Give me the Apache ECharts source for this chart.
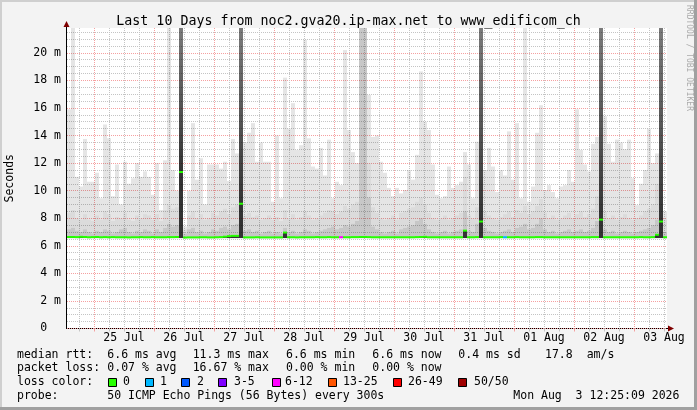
<!DOCTYPE html>
<html><head><meta charset="utf-8">
<script src="https://cdn.jsdelivr.net/npm/echarts@6/dist/echarts.min.js"></script>
<style>html,body{margin:0;padding:0;background:#f3f3f3}#c{width:697px;height:410px}</style>
</head><body><div id="c"></div>
<script>
// ---------------- DATA ----------------
// 150 columns of 1.6 h each over the last 10 days; values in ms
const smokeTop = [
 15.9,21.8,11.0,10.3,13.75,10.65,10.65,11.3,9.45,14.8,
 13.8,9.6,11.9,9.0,12.1,10.5,10.9,12.0,11.0,11.4,
 11.0,9.7,12.0,8.6,12.2,21.8,11.5,10.0,21.8,7.4,
 10.0,14.9,10.8,12.35,9.0,11.9,11.9,11.9,11.6,12.1,
 10.7,13.75,12.7,21.8,13.5,14.2,14.9,12.1,13.5,12.1,
 12.1,9.2,14.0,9.45,18.2,14.5,16.35,12.95,13.3,20.95,
 13.8,11.75,11.6,13.1,11.1,13.7,9.45,10.65,10.4,20.2,
 14.4,12.8,12.0,21.8,21.8,16.95,13.9,14.0,12.1,11.3,
 10.2,9.6,10.2,9.8,10.05,11.5,10.8,12.6,18.65,15.0,
 14.4,11.9,9.7,9.45,9.6,11.75,10.2,10.4,10.65,12.8,
 11.9,9.45,13.55,21.8,11.5,13.1,11.75,9.9,11.5,11.1,
 14.3,10.8,14.9,9.45,21.8,9.2,10.3,14.2,16.2,10.05,
 10.4,9.9,9.45,10.3,10.4,11.5,10.65,15.9,12.95,11.9,
 11.4,13.4,13.9,21.8,15.4,13.4,12.1,13.7,13.5,13.0,
 13.7,10.9,8.95,10.5,11.5,14.5,12.0,12.7,21.8,8.5
];
const smokeMid = [
 8.4,8.6,8.0,7.9,8.3,7.9,7.8,8.2,7.9,8.5,
 8.3,7.8,8.1,8.0,8.4,7.9,7.8,8.2,8.0,8.3,
 8.2,7.9,8.3,7.8,8.6,9.0,8.7,8.8,21.8,7.2,
 8.2,8.5,8.0,8.3,7.9,8.0,8.4,8.2,8.5,8.7,
 8.3,8.8,9.0,21.8,8.2,8.4,8.1,8.2,7.9,8.0,
 8.2,7.9,8.1,7.8,8.6,8.0,8.3,7.9,8.1,8.5,
 8.2,7.9,8.0,8.2,8.4,8.6,8.5,8.3,8.5,8.9,
 8.7,9.0,9.2,21.8,21.8,12.0,8.8,8.4,8.0,7.9,
 8.0,8.2,7.9,8.4,8.5,8.7,8.8,9.2,9.5,9.0,
 8.4,8.0,7.9,8.0,8.2,7.9,8.0,8.2,8.4,11.0,
 8.2,8.0,8.8,21.8,8.5,8.2,8.0,7.9,8.1,8.3,
 8.5,8.1,8.6,8.4,8.9,8.3,8.5,8.9,9.4,8.4,
 8.0,8.2,7.9,8.0,8.2,8.4,8.0,8.3,8.5,8.1,
 8.3,8.7,9.6,21.8,8.5,8.0,8.2,7.9,8.1,8.3,
 8.0,7.9,8.0,8.2,8.5,8.7,9.0,10.5,21.8,7.9
];
const smokeLow = [
 7.2,7.3,7.1,7.0,7.2,7.0,6.9,7.1,7.0,7.2,
 7.1,6.9,7.0,7.2,7.3,7.0,6.9,7.1,7.0,7.2,
 7.1,6.9,7.2,7.0,7.3,7.6,7.4,7.5,21.8,6.9,
 7.2,7.3,7.0,7.1,6.9,7.0,7.2,7.1,7.3,7.4,
 7.2,7.5,7.6,21.8,7.1,7.2,7.0,7.1,6.9,7.0,
 7.1,6.9,7.0,6.9,7.3,7.0,7.1,6.9,7.0,7.2,
 7.1,6.9,7.0,7.1,7.2,7.3,7.4,7.2,7.3,7.5,
 7.4,7.6,7.8,21.8,21.8,9.5,7.4,7.2,7.0,6.9,
 7.0,7.1,6.9,7.2,7.3,7.4,7.5,7.8,8.0,7.6,
 7.2,7.0,6.9,7.0,7.1,6.9,7.0,7.1,7.2,8.5,
 7.1,7.0,7.6,21.8,7.3,7.1,7.0,6.9,7.0,7.1,
 7.2,7.0,7.3,7.4,7.6,7.2,7.3,7.6,8.0,7.2,
 7.0,7.1,6.9,7.0,7.1,7.2,7.0,7.1,7.2,7.0,
 7.1,7.3,7.8,21.8,7.2,7.0,7.1,6.9,7.0,7.1,
 7.0,6.9,7.0,7.1,7.2,7.3,7.5,7.9,21.8,7.0
];
const medianRtt = [
 6.64,6.64,6.63,6.65,6.64,6.62,6.63,6.64,6.62,6.63,
 6.62,6.63,6.62,6.62,6.62,6.61,6.62,6.62,6.63,6.62,
 6.62,6.63,6.62,6.62,6.62,6.63,6.63,6.64,11.35,6.60,
 6.61,6.61,6.61,6.62,6.62,6.61,6.61,6.62,6.63,6.66,
 6.70,6.72,6.72,9.05,6.61,6.61,6.61,6.62,6.61,6.61,
 6.61,6.61,6.61,6.61,6.96,6.62,6.62,6.61,6.62,6.62,
 6.62,6.62,6.63,6.62,6.62,6.63,6.62,6.62,6.62,6.62,
 6.62,6.63,6.63,6.64,6.64,6.63,6.62,6.62,6.62,6.62,
 6.62,6.62,6.62,6.62,6.62,6.62,6.62,6.63,6.64,6.65,
 6.62,6.62,6.62,6.62,6.62,6.62,6.62,6.62,6.62,7.10,
 6.62,6.62,6.63,7.76,6.62,6.62,6.62,6.62,6.63,6.62,
 6.62,6.62,6.63,6.62,6.62,6.62,6.62,6.63,6.63,6.62,
 6.62,6.62,6.62,6.62,6.62,6.62,6.62,6.62,6.62,6.62,
 6.62,6.63,6.63,7.90,6.62,6.62,6.62,6.62,6.62,6.62,
 6.62,6.62,6.62,6.63,6.62,6.62,6.63,6.80,7.76,6.62
];
const lostPings = [
 0,0,0,0,0,0,0,0,0,0, 0,0,0,0,0,0,0,0,0,0, 0,0,0,0,0,0,0,0,0,0,
 0,0,0,0,0,0,0,0,0,0, 0,0,0,0,0,0,0,0,0,0, 0,0,0,0,0,0,0,0,0,0,
 0,0,0,0,0,0,0,0,8,0, 0,0,0,0,0,0,0,0,0,0, 0,0,0,0,0,0,0,0,0,0,
 0,0,0,0,0,0,0,0,0,0, 0,0,0,0,0,0,0,0,0,1, 0,0,0,0,0,0,0,0,0,0,
 0,0,0,0,0,0,0,0,0,0, 0,0,0,0,0,0,0,0,0,0, 0,0,0,0,0,0,0,0,0,0
];
const rttFloor = 6.56;
const dayLabels = ['25 Jul','26 Jul','27 Jul','28 Jul','29 Jul','30 Jul','31 Jul','01 Aug','02 Aug','03 Aug'];
const spanHours = 240;          // 10 days
const firstMidnight = 10.8;     // hours after the left edge
const yMax = 21.8;
const lossBinLabels = ['0','1','2','3-5','6-12','13-25','26-49','50/50'];
const lossBinUpper  = [0,1,2,5,12,25,49,50];
const rttStats  = ['6.6','11.3','6.6','6.6','0.4','17.8'];
const lossStats = ['0.07','16.67','0.00','0.00'];
const probeText = '50 ICMP Echo Pings (56 Bytes) every 300s';
const stampText = 'Mon Aug  3 12:25:09 2026';

// ---------------- STYLE ----------------
const MONO = '"DejaVu Sans Mono", monospace';
const lossColors = ['#26ff00','#00b8ff','#0059ff','#7f00ff','#ff00ff','#ff5500','#ff0000','#a00000'];
const minorGrid = '#c4c4c4', majorGrid = '#f5a0a0';

// ---------------- DERIVED ----------------
const N = smokeTop.length;
const cats = smokeTop.map((_, i) => String(i));
const midnights = [], minors = [], noons = [];
for (let h = firstMidnight - 6; h < spanHours; h += 6) {
  const r = +h.toFixed(3);
  if (Math.abs(((r - firstMidnight) % 24 + 24) % 24) < 1e-6) midnights.push(r); else minors.push(r);
}
dayLabels.forEach((_, k) => noons.push(+(firstMidnight + 12 + 24 * k).toFixed(3)));
const isSpike = i => medianRtt[i] > 7.5;
const r3 = v => +v.toFixed(3);
const spikeGrad = new echarts.graphic.LinearGradient(0, 0, 0, 1, [
  {offset: 0, color: 'rgba(0,0,0,0.52)'}, {offset: 1, color: 'rgba(0,0,0,0.80)'}]);
const bandBelow = medianRtt.map(m => r3(m - rttFloor));
const bandLow = smokeLow.map((v, i) => ({
  value: r3(Math.max(v, medianRtt[i]) - medianRtt[i]),
  itemStyle: {color: isSpike(i) ? spikeGrad : 'rgba(0,0,0,0.22)'}
}));
const bandMid = smokeMid.map((v, i) => r3(Math.max(v, smokeLow[i]) - Math.max(smokeLow[i], medianRtt[i])));
const bandTop = smokeTop.map((v, i) => r3(Math.max(v, smokeMid[i]) - Math.max(smokeMid[i], smokeLow[i], medianRtt[i])));
const binOf = n => lossBinUpper.findIndex(u => n <= u);

const barBase = {type: 'bar', xAxisIndex: 1, yAxisIndex: 0, stack: 'smoke', barWidth: '100%',
  barCategoryGap: '0%', silent: true, animation: false};

// y split-line colours (majors every 2, minors every 0.5; hide the max line)
const minorYColors = [];
for (let k = 0; k <= Math.ceil(yMax / 0.5); k++) minorYColors.push(k % 4 === 0 || k * 0.5 > yMax - 0.01 ? 'rgba(0,0,0,0)' : minorGrid);
const majorYColors = [];
for (let k = 0; k <= Math.ceil(yMax / 2); k++) majorYColors.push(k * 2 > yMax - 0.01 || k * 2 >= 21 ? 'rgba(0,0,0,0)' : majorGrid);

// ---------------- TEXT / LEGEND ----------------
const g = [];
const txt = (x, y, s) => g.push({type: 'text', x, y, silent: true,
  style: {text: s, font: '11.5px ' + MONO, fill: '#000', align: 'left', verticalAlign: 'middle'}});
// frame
g.push({type: 'rect', shape: {x: 0, y: 0, width: 697, height: 2}, style: {fill: '#cfcfcf'}, silent: true});
g.push({type: 'rect', shape: {x: 0, y: 0, width: 2, height: 410}, style: {fill: '#cfcfcf'}, silent: true});
g.push({type: 'rect', shape: {x: 694, y: 0, width: 3, height: 410}, style: {fill: '#a0a0a0'}, silent: true});
g.push({type: 'rect', shape: {x: 0, y: 407, width: 697, height: 3}, style: {fill: '#a0a0a0'}, silent: true});
// axis lines with arrows
g.push({type: 'line', shape: {x1: 66.5, y1: 328, x2: 66.5, y2: 24}, style: {stroke: '#000', lineWidth: 1}, silent: true});
g.push({type: 'line', shape: {x1: 66, y1: 328.5, x2: 670, y2: 328.5}, style: {stroke: '#000', lineWidth: 1}, silent: true});
g.push({type: 'polygon', shape: {points: [[63.5, 27], [69.5, 27], [66.5, 21]]}, style: {fill: '#7f0000'}, silent: true});
g.push({type: 'polygon', shape: {points: [[668, 325.5], [668, 331.5], [674, 328.5]]}, style: {fill: '#7f0000'}, silent: true});
// right watermark
g.push({type: 'text', x: 689, y: 5, rotation: -Math.PI / 2, silent: true,
  style: {text: 'RRDTOOL / TOBI OETIKER', font: '8px ' + MONO, fill: '#aaaaaa', align: 'left', verticalAlign: 'middle'}});
// legend rows
txt(17, 355, 'median rtt:');
const rttX = [107.3, 192.7, 286, 372.3, 458.3];
const rttSuf = [' ms avg', ' ms max', ' ms min', ' ms now', ' ms sd'];
rttX.forEach((x, k) => txt(x, 355, rttStats[k] + rttSuf[k]));
txt(545, 355, rttStats[5]); txt(586.7, 355, 'am/s');
txt(17, 368.5, 'packet loss:');
const lossX = [107.3, 192.7, 286, 372.3];
const lossSuf = [' % avg', ' % max', ' % min', ' % now'];
lossX.forEach((x, k) => txt(x, 368.5, lossStats[k] + lossSuf[k]));
txt(17, 382.5, 'loss color:');
const boxX = [108.5, 145.5, 181.5, 218.5, 272.5, 328.5, 393.5, 458.5];
const boxLabelX = [123, 160, 197, 234, 285, 343, 408, 474];
lossBinLabels.forEach((s, k) => {
  g.push({type: 'rect', shape: {x: boxX[k], y: 378.5, width: 8, height: 8}, silent: true,
    style: {fill: lossColors[k], stroke: '#000', lineWidth: 1}});
  txt(boxLabelX[k], 382.5, s);
});
txt(17, 396, 'probe:');
txt(107.3, 396, probeText);
txt(513.3, 396, stampText);

// ---------------- CHART ----------------
const chart = echarts.init(document.getElementById('c'), null, {renderer: 'canvas'});
chart.setOption({
  animation: false,
  backgroundColor: '#f3f3f3',
  title: {text: 'Last 10 Days from noc2.gva20.ip-max.net to www_edificom_ch', left: 'center', top: 10,
    textStyle: {fontFamily: MONO, fontSize: 13.3, fontWeight: 'normal', color: '#000'}},
  grid: {left: 67, top: 28, width: 600, height: 300.5, show: true, backgroundColor: '#ffffff',
    borderWidth: 0, containLabel: false, outerBoundsMode: 'none'},
  xAxis: [
    {type: 'value', min: 0, max: spanHours, position: 'bottom',
      axisLine: {show: false},
      axisTick: {show: true, customValues: minors, length: 3, lineStyle: {color: minorGrid}},
      axisLabel: {customValues: noons, margin: 4, fontFamily: MONO, fontSize: 11.5, color: '#000',
        formatter: v => dayLabels[Math.round((v - firstMidnight - 12) / 24)] || ''},
      splitLine: {show: true, lineStyle: {color: minorGrid, type: [1, 1]}}},
    {type: 'category', data: cats, show: false, boundaryGap: true},
    {type: 'value', min: 0, max: spanHours, position: 'bottom',
      axisLine: {show: false},
      axisTick: {show: true, customValues: midnights, length: 3, lineStyle: {color: majorGrid}},
      axisLabel: {show: false},
      splitLine: {show: true, lineStyle: {color: majorGrid, type: [1, 1]}}}
  ],
  yAxis: [
    {type: 'value', min: 0, max: yMax, interval: 2, position: 'left',
      name: 'Seconds', nameLocation: 'middle', nameGap: 51,
      nameTextStyle: {fontFamily: MONO, fontSize: 11.5, color: '#000'},
      axisLine: {show: false},
      axisTick: {show: false},
      axisLabel: {showMaxLabel: false, margin: 6, fontFamily: MONO, fontSize: 11.5, color: '#000',
        formatter: v => (v === 0 ? '0  ' : v + ' m')},
      splitLine: {show: true, showMaxLine: false, lineStyle: {color: majorYColors, type: [1, 1]}}},
    {type: 'value', min: 0, max: yMax, interval: 0.5, position: 'left',
      axisLine: {show: false}, axisTick: {show: false}, axisLabel: {show: false},
      splitLine: {show: true, showMaxLine: false, lineStyle: {color: minorYColors, type: [1, 1]}}}
  ],
  series: [
    Object.assign({name: 'floor', data: medianRtt.map(() => rttFloor), itemStyle: {color: 'rgba(0,0,0,0)'}}, barBase),
    Object.assign({name: 'below', data: bandBelow, itemStyle: {color: 'rgba(0,0,0,0.8)'}}, barBase),
    Object.assign({name: 'low', data: bandLow}, barBase),
    Object.assign({name: 'mid', data: bandMid, itemStyle: {color: 'rgba(0,0,0,0.14)'}}, barBase),
    Object.assign({name: 'top', data: bandTop, itemStyle: {color: 'rgba(0,0,0,0.10)'}}, barBase),
    {type: 'scatter', name: 'median', xAxisIndex: 1, yAxisIndex: 0, symbol: 'rect', symbolSize: [4, 2],
      silent: true, animation: false, z: 5,
      data: medianRtt.map((m, i) => ({value: [i, m], itemStyle: {color: lossColors[binOf(lostPings[i])], opacity: 1}}))}
  ],
  graphic: g
});
</script></body></html>
